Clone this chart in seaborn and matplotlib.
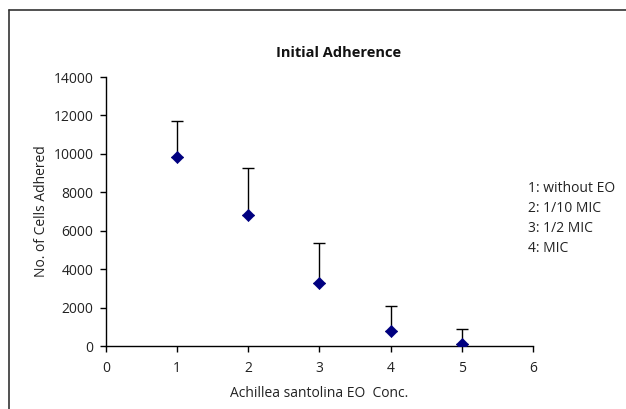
import numpy as np
import pandas as pd
import matplotlib
matplotlib.use("Agg")
import matplotlib.pyplot as plt
from matplotlib.lines import Line2D
import seaborn as sns

# Data
conc = [1, 2, 3, 4, 5]
cells = [9850, 6820, 3270, 790, 100]
upper_err = [1860, 2440, 2070, 1280, 770]

legend_lines = ["1: without EO", "2: 1/10 MIC", "3: 1/2 MIC", "4: MIC"]

df = pd.DataFrame({"conc": conc, "cells": cells})

sns.set_style("ticks")
plt.rcParams['font.family'] = ['Open Sans', 'DejaVu Sans']

fig = plt.figure(figsize=(6.26, 4.09), dpi=100)
ax = fig.add_axes([0.1693, 0.154, 0.6821, 0.6577])

# upper-only error bars
ax.errorbar(
    conc, cells,
    yerr=[np.zeros(len(upper_err)), upper_err],
    fmt="none", ecolor="black", elinewidth=1.0, capsize=4, capthick=1.0,
    zorder=2
)

sns.scatterplot(
    data=df, x="conc", y="cells", ax=ax,
    marker="D", s=38, color="#000080", edgecolor="#000080",
    zorder=3, legend=False
)

ax.set_xlim(0, 6)
ax.set_ylim(0, 14000)
ax.set_xticks(range(0, 7))
ax.set_yticks(range(0, 14001, 2000))
ax.tick_params(axis="both", direction="out", length=4, width=1,
               color="black", labelsize=10, labelcolor="#222222")
ax.tick_params(axis="x", pad=7)
ax.tick_params(axis="y", pad=5)

for side in ["top", "right"]:
    ax.spines[side].set_visible(False)
for side in ["left", "bottom"]:
    ax.spines[side].set_color("black")
    ax.spines[side].set_linewidth(1)

ax.set_xlabel("Achillea santolina EO  Conc.", fontsize=10, color="#222222",
              labelpad=7)
ax.set_ylabel("No. of Cells Adhered", fontsize=10, color="#222222",
              labelpad=3)

fig.text(0.5415, 0.87, "Initial Adherence", ha="center", va="center",
         fontsize=10.5, fontweight="bold", color="#111111")

fig.text(0.843, 0.466, "\n".join(legend_lines), ha="left", va="center",
         fontsize=10, color="#222222", linespacing=1.45)

# outer chart frame (top and left edges only visible)
fig.add_artist(Line2D([9 / 626, 626 / 626], [1 - 10 / 409, 1 - 10 / 409],
                      color="#333333", lw=1.2, transform=fig.transFigure))
fig.add_artist(Line2D([9 / 626, 9 / 626], [1 - 10 / 409, 0],
                      color="#333333", lw=1.2, transform=fig.transFigure))

fig.savefig("out.png", dpi=100)
